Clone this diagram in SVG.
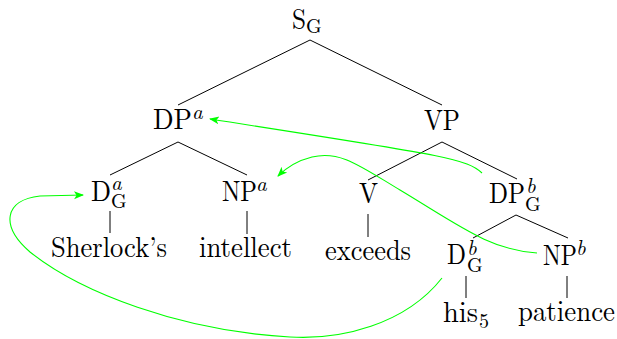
<svg xmlns="http://www.w3.org/2000/svg" width="617" height="339" viewBox="0 0 617 339">
<style>
text{font-family:'Latin Modern Roman','CMU Serif','Liberation Serif','DejaVu Serif',serif;fill:#000}
.b{font-size:29px}
.s{font-size:20px}
.i{font-size:21px;font-style:italic}
.e{stroke:#000;stroke-width:1;fill:none}
.g{stroke:#00ff00;stroke-width:1.1;fill:none;marker-end:url(#ah)}
</style>
<defs>
<marker id="ah" markerUnits="userSpaceOnUse" markerWidth="10" markerHeight="10" viewBox="0 0 10 10" refX="9" refY="5" orient="auto">
<path d="M0,1 L10,5 L0,9 L2.5,5 z" fill="#00ff00"/>
</marker>
</defs>
<g id="edges">
<line class="e" x1="310" y1="40" x2="178" y2="105"/>
<line class="e" x1="310" y1="40" x2="442" y2="105"/>
<line class="e" x1="178" y1="142" x2="110" y2="175"/>
<line class="e" x1="178" y1="142" x2="247" y2="175"/>
<line class="e" x1="442" y1="142" x2="368" y2="180"/>
<line class="e" x1="442" y1="142" x2="517" y2="179"/>
<line class="e" x1="110" y1="211" x2="110" y2="233"/>
<line class="e" x1="247" y1="211" x2="247" y2="234"/>
<line class="e" x1="368" y1="214" x2="368" y2="237"/>
<line class="e" x1="516" y1="215" x2="473" y2="238"/>
<line class="e" x1="516" y1="215" x2="568" y2="238"/>
<line class="e" x1="466" y1="276" x2="466" y2="298"/>
<line class="e" x1="567" y1="276" x2="567" y2="298"/>
</g>
<g id="arrows">
<path class="g" d="M482,173 C466,158 440,155 210,119"/>
<path class="g" d="M537,253 C490,250 460,226 400,190 C360,166 340,150 312,157 C296,161 286,168 278,176"/>
<path class="g" d="M442,278 C405,325 340,340 290,337 C180,331 80,292 30,252 C0,226 4,200 40,196 L83,195"/>
</g>
<g id="S">
<text class="b" x="292" y="29" textLength="14" lengthAdjust="spacingAndGlyphs">S</text><text class="s" x="306" y="33">G</text>
</g>
<g id="DPa">
<text class="b" x="153" y="129" textLength="39" lengthAdjust="spacingAndGlyphs">DP</text><text class="i" x="192" y="119">a</text>
</g>
<g id="VP">
<text class="b" x="424" y="130" textLength="36" lengthAdjust="spacingAndGlyphs">VP</text>
</g>
<g id="Da">
<text class="b" x="91" y="201" textLength="20" lengthAdjust="spacingAndGlyphs">D</text><text class="i" x="111" y="190">a</text><text class="s" x="111" y="208">G</text>
</g>
<g id="NPa">
<text class="b" x="222" y="201" textLength="35" lengthAdjust="spacingAndGlyphs">NP</text><text class="i" x="256" y="191">a</text>
</g>
<g id="V">
<text class="b" x="359" y="203" textLength="19" lengthAdjust="spacingAndGlyphs">V</text>
</g>
<g id="DPb">
<text class="b" x="489" y="203" textLength="36" lengthAdjust="spacingAndGlyphs">DP</text><text class="i" x="526" y="193">b</text><text class="s" x="525" y="211">G</text>
</g>
<g id="Sherlocks">
<text class="b" x="51" y="257" textLength="116" lengthAdjust="spacingAndGlyphs">Sherlock’s</text>
</g>
<g id="intellect">
<text class="b" x="199" y="257" textLength="93" lengthAdjust="spacingAndGlyphs">intellect</text>
</g>
<g id="exceeds">
<text class="b" x="325" y="260" textLength="86" lengthAdjust="spacingAndGlyphs">exceeds</text>
</g>
<g id="Db">
<text class="b" x="447" y="264" textLength="19" lengthAdjust="spacingAndGlyphs">D</text><text class="i" x="467" y="255">b</text><text class="s" x="467" y="272">G</text>
</g>
<g id="NPb">
<text class="b" x="543" y="265" textLength="34" lengthAdjust="spacingAndGlyphs">NP</text><text class="i" x="576" y="255">b</text>
</g>
<g id="his">
<text class="b" x="443" y="322" textLength="35" lengthAdjust="spacingAndGlyphs">his</text><text class="s" x="479" y="328">5</text>
</g>
<g id="patience">
<text class="b" x="518" y="321" textLength="97" lengthAdjust="spacingAndGlyphs">patience</text>
</g>
</svg>
